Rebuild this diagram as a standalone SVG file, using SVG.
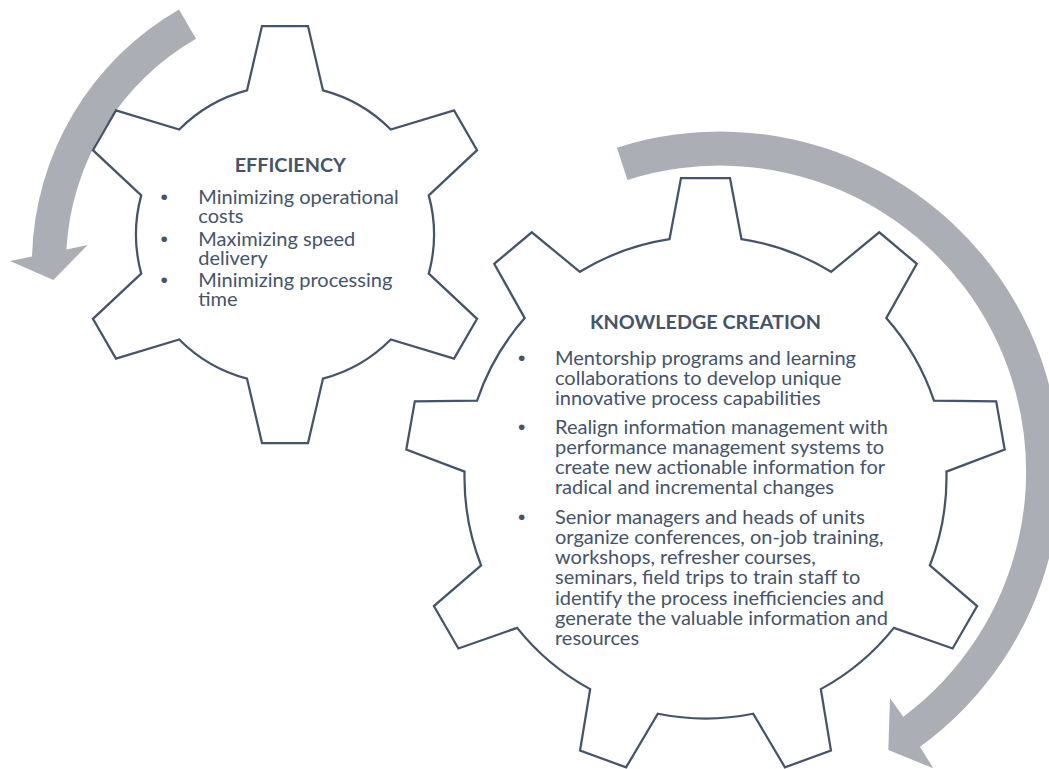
<svg xmlns="http://www.w3.org/2000/svg" width="1049" height="769" viewBox="0 0 1049 769">
<style>
.gear{fill:#ffffff;stroke:#44546A;stroke-width:2.25;stroke-linejoin:miter}
.arrow{fill:#ABAEB4;stroke:none}
.t{font-family:Lato,"Open Sans","Liberation Sans",sans-serif;font-size:20px;fill:#44546A}
.h{font-family:Lato,"Open Sans","Liberation Sans",sans-serif;font-size:19.8px;font-weight:bold;fill:#44546A;text-anchor:middle}
.b{font-family:"Liberation Sans",sans-serif;font-size:21px;fill:#44546A;text-anchor:middle}
</style>
<rect width="1049" height="769" fill="#ffffff"/>
<g id="connectors">
<path class="arrow" d="M179,9.4 A294,294 0 0 0 32,256.5 L10,261 L53.3,280 L87.7,245 L66.4,249.4 A260,260 0 0 1 196,38.8 Z"/>
<path class="arrow" d="M616.94,147.63 A340,340 0 0 1 920,746.7 L933.3,768.3 L888.3,750 L890,698.3 L903.3,716.7 A306,306 0 0 0 627.45,179.96 Z"/>
</g>
<g id="efficiency">
<path class="gear" d="M247,90.43 L262,26 L308,26 L323,90.43 A149,149 0 0 1 390.77,129.56 L454.06,110.33 L477.06,150.17 L428.77,195.37 A149,149 0 0 1 428.77,273.63 L477.06,318.83 L454.06,358.67 L390.77,339.44 A149,149 0 0 1 323,378.57 L308,443 L262,443 L247,378.57 A149,149 0 0 1 179.23,339.44 L115.94,358.67 L92.94,318.83 L141.23,273.63 A149,149 0 0 1 141.23,195.37 L92.94,150.17 L115.94,110.33 L179.23,129.56 A149,149 0 0 1 247,90.43 Z"/>
<text class="h" x="290.3" y="171.7">EFFICIENCY</text>
<text class="b" x="164.3" y="204">•</text>
<text class="b" x="164.3" y="245.7">•</text>
<text class="b" x="164.3" y="287">•</text>
<text class="t"><tspan x="198.3" y="204">Minimizing operational</tspan><tspan x="198.3" y="223.3">costs</tspan><tspan x="198.3" y="245.7">Maximizing speed</tspan><tspan x="198.3" y="265">delivery</tspan><tspan x="198.3" y="287">Minimizing processing</tspan><tspan x="198.3" y="306">time</tspan></text>
</g>
<g id="knowledge-creation">
<path class="gear" d="M669.5,239.2 L681,178 L730,178 L741.5,239.2 A241,241 0 0 1 831.10,271.82 L879.25,232.33 L916.79,263.83 L886.26,318.10 A241,241 0 0 1 933.93,400.68 L996.20,401.38 L1004.70,449.64 L946.43,471.58 A241,241 0 0 1 929.87,565.47 L977.12,606.03 L952.62,648.47 L893.87,627.83 A241,241 0 0 1 820.83,689.12 L830.95,750.56 L784.91,767.32 L753.17,713.74 A241,241 0 0 1 657.83,713.74 L626.09,767.32 L580.05,750.56 L590.17,689.12 A241,241 0 0 1 517.13,627.83 L458.38,648.47 L433.88,606.03 L481.13,565.47 A241,241 0 0 1 464.57,471.58 L406.30,449.64 L414.80,401.38 L477.07,400.68 A241,241 0 0 1 524.74,318.10 L494.21,263.83 L531.75,232.33 L579.90,271.82 A241,241 0 0 1 669.5,239.2 Z"/>
<text class="h" x="705.5" y="328.5">KNOWLEDGE CREATION</text>
<text class="b" x="521.7" y="364.5">•</text>
<text class="b" x="521.7" y="433.5">•</text>
<text class="b" x="521.7" y="523.5">•</text>
<text class="t"><tspan x="555" y="364.5">Mentorship programs and learning</tspan><tspan x="555" y="384.75">collaborations to develop unique</tspan><tspan x="555" y="405">innovative process capabilities</tspan><tspan x="555" y="433.5">Realign information management with</tspan><tspan x="555" y="453.75">performance management systems to</tspan><tspan x="555" y="474">create new actionable information for</tspan><tspan x="555" y="494.25">radical and incremental changes</tspan><tspan x="555" y="523.5">Senior managers and heads of units</tspan><tspan x="555" y="543.75">organize conferences, on-job training,</tspan><tspan x="555" y="564">workshops, refresher courses,</tspan><tspan x="555" y="584.25">seminars, field trips to train staff to</tspan><tspan x="555" y="604.5">identify the process inefficiencies and</tspan><tspan x="555" y="624.75">generate the valuable information and</tspan><tspan x="555" y="645">resources</tspan></text>
</g>
</svg>
